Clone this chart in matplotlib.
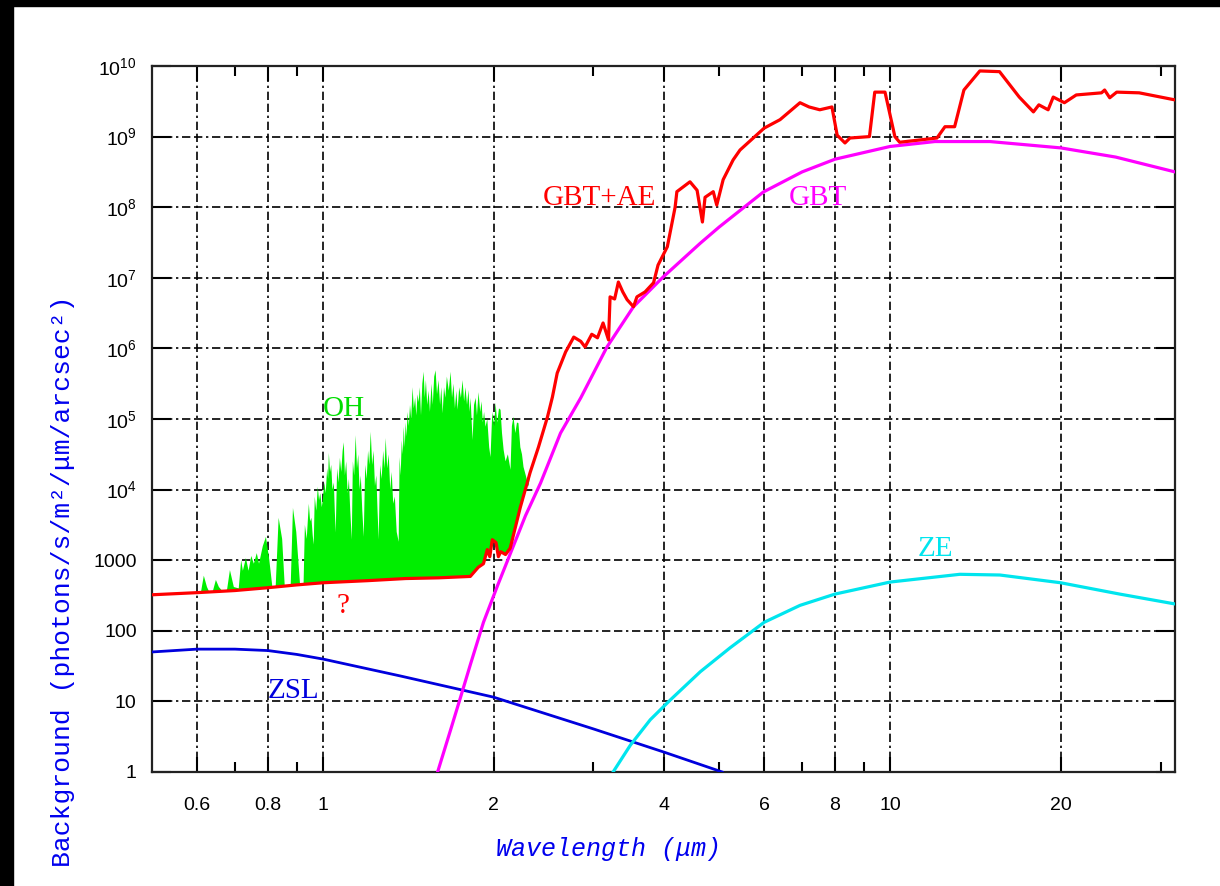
import numpy as np
import matplotlib
matplotlib.use("Agg")
import matplotlib.pyplot as plt
from matplotlib.patches import Rectangle
from matplotlib.ticker import FixedLocator, FixedFormatter, NullFormatter

plt.rcParams['font.family'] = 'Liberation Sans'
plt.rcParams['mathtext.fontset'] = 'custom'
plt.rcParams['mathtext.rm'] = 'Liberation Sans'
plt.rcParams['mathtext.default'] = 'regular'

# wavelengths in micron, backgrounds as log10(photons/s/m^2/um/arcsec^2)
zsl_wl = [0.5, 0.6, 0.7, 0.8, 0.9, 1.0, 1.37, 2.0, 3.0, 4.0, 5.06]
zsl_log = [1.70, 1.74, 1.74, 1.72, 1.665, 1.60, 1.36, 1.06, 0.61, 0.28, 0.0]

ze_wl = [3.25, 3.486, 3.779, 4.099, 4.63, 5.227, 6.0, 6.94, 8.0, 10.0, 13.28,
         15.62, 20.0, 25.4, 31.8]
ze_log = [0.0, 0.38, 0.74, 1.02, 1.42, 1.76, 2.12, 2.36, 2.52, 2.69, 2.80,
          2.79, 2.68, 2.52, 2.38]

gbt_wl = [1.594, 1.68, 1.75, 1.822, 1.92, 2.033, 2.143, 2.277, 2.42, 2.625,
          2.85, 3.17, 3.53, 3.98, 4.63, 5.0, 5.98, 7.0, 8.0, 10.0, 12.0, 15.0,
          20.0, 25.0, 31.8]
gbt_log = [0.0, 0.595, 1.062, 1.53, 2.12, 2.64, 3.10, 3.63, 4.09, 4.80,
           5.30, 6.02, 6.59, 7.01, 7.49, 7.72, 8.215, 8.50, 8.68, 8.86, 8.93, 8.93,
           8.84, 8.71, 8.50]

gbtae_wl = [0.5, 0.6, 0.7, 0.8, 0.9, 1.0, 1.2, 1.4, 1.6, 1.82, 1.88, 1.92,
            1.95, 1.97, 1.99, 2.02, 2.04, 2.06, 2.10, 2.14, 2.23, 2.32, 2.40,
            2.49, 2.54, 2.59, 2.68, 2.77, 2.85, 2.90, 2.98, 3.05, 3.12, 3.19,
            3.21, 3.27, 3.32, 3.38, 3.44, 3.53, 3.58, 3.70, 3.83, 3.90, 4.05,
            4.18, 4.21, 4.44, 4.57, 4.67, 4.72, 4.88, 4.95, 5.08, 5.29, 5.44,
            6.0, 6.4, 6.94, 7.2, 7.52, 7.9, 8.07, 8.33, 8.5, 9.2, 9.4, 9.8,
            10.2, 10.4, 12.1, 12.5, 13.0, 13.5, 14.4, 15.6, 16.9, 17.9, 18.3,
            19.0, 19.4, 20.3, 21.3, 23.6, 23.9, 24.4, 25.1, 27.5, 31.8]
gbtae_log = [2.51, 2.54, 2.57, 2.61, 2.65, 2.68, 2.71, 2.74, 2.75, 2.77, 2.90, 2.95,
             3.15, 3.05, 3.29, 3.25, 3.05, 3.12, 3.08, 3.17, 3.75, 4.24, 4.60,
             5.03, 5.31, 5.65, 5.95, 6.16, 6.10, 6.02, 6.20, 6.15, 6.36, 6.12,
             6.73, 6.70, 6.94, 6.80, 6.69, 6.59, 6.73, 6.80, 6.93, 7.18, 7.44,
             8.00, 8.22, 8.36, 8.24, 7.79, 8.14, 8.22, 8.03, 8.39, 8.67, 8.81,
             9.12, 9.24, 9.48, 9.42, 9.38, 9.42, 9.02, 8.91, 8.98, 9.00, 9.63, 9.63,
             9.00, 8.92, 8.98, 9.14, 9.14, 9.66, 9.93, 9.92, 9.56, 9.35, 9.45,
             9.38, 9.56, 9.48, 9.59, 9.62, 9.66, 9.55, 9.63, 9.62, 9.52]

# OH airglow envelope (top edge of the emission band forest)
oh_wl = [0.600, 0.610, 0.617, 0.625, 0.630, 0.640, 0.648, 0.656, 0.664, 0.678,
         0.686, 0.697, 0.711, 0.718, 0.723, 0.732, 0.740, 0.748, 0.756, 0.765,
         0.772, 0.784, 0.794, 0.805, 0.815, 0.826, 0.836, 0.848, 0.857, 0.868,
         0.878, 0.886, 0.898, 0.912, 0.925,
         0.930, 0.937, 0.945, 0.950, 0.955, 0.960, 0.964, 0.968, 0.974, 0.980,
         0.985, 0.990, 0.996, 1.000, 1.006, 1.012, 1.018, 1.022, 1.025, 1.030,
         1.035, 1.040, 1.046, 1.050, 1.054,
         1.060, 1.066, 1.072, 1.078, 1.084, 1.089, 1.094, 1.100, 1.106, 1.112,
         1.118, 1.125, 1.130, 1.136, 1.143, 1.149, 1.155, 1.161, 1.167, 1.174,
         1.181, 1.188, 1.195, 1.202, 1.208, 1.215, 1.222, 1.229, 1.236, 1.243,
         1.249, 1.255, 1.262, 1.270, 1.278, 1.285, 1.291, 1.299, 1.307, 1.315,
         1.323, 1.331, 1.340, 1.350, 1.361,
         1.366, 1.372, 1.378, 1.384, 1.389, 1.395, 1.400, 1.405, 1.411, 1.418,
         1.425, 1.432, 1.440, 1.447, 1.455, 1.462, 1.469, 1.476, 1.483, 1.490,
         1.498, 1.506, 1.513, 1.520, 1.528, 1.537, 1.545, 1.555, 1.563, 1.572,
         1.581, 1.590, 1.600, 1.610, 1.618, 1.627, 1.636, 1.645, 1.655, 1.668,
         1.680, 1.690, 1.700, 1.710, 1.720, 1.729, 1.740, 1.752, 1.764, 1.775,
         1.785, 1.796, 1.807, 1.815, 1.822, 1.837, 1.848, 1.860, 1.870, 1.882,
         1.895, 1.905, 1.915, 1.925, 1.936, 1.950, 1.965, 1.976, 1.990, 2.005,
         2.017, 2.030, 2.045, 2.058, 2.070, 2.084, 2.100, 2.120, 2.143, 2.155,
         2.169, 2.185, 2.200, 2.213, 2.230, 2.245, 2.259, 2.280, 2.306, 2.320]
oh_log = [2.54, 2.55, 2.78, 2.62, 2.56, 2.56, 2.72, 2.62, 2.57, 2.58,
          2.86, 2.62, 2.60, 3.00, 2.85, 3.03, 2.85, 3.06, 2.95, 3.10,
          2.95, 3.20, 3.33, 3.00, 2.62, 2.62, 3.60, 3.30, 2.63, 2.63,
          2.64, 3.74, 3.40, 2.65, 2.65,
          3.50, 3.30, 3.80, 3.55, 3.60, 3.35, 3.22, 3.90, 3.70, 4.04,
          3.85, 3.95, 3.75, 3.85, 4.10, 3.95, 4.30, 4.15, 4.52, 4.25,
          4.35, 4.00, 4.10, 3.70, 3.39,
          4.30, 4.10, 4.45, 4.25, 4.55, 4.67, 4.20, 4.40, 3.95, 4.15,
          3.70, 3.29, 4.40, 4.20, 4.77, 4.30, 4.50, 4.00, 4.20, 3.70,
          3.33, 4.35, 4.15, 4.55, 4.35, 4.82, 4.35, 4.55, 4.05, 4.20,
          3.70, 3.29, 4.35, 4.15, 4.55, 4.30, 4.73, 4.30, 4.50, 4.00,
          4.25, 3.80, 3.90, 3.40, 3.26,
          4.46, 4.20, 4.70, 4.50, 4.89, 4.60, 4.95, 4.75, 5.10, 4.90,
          5.20, 5.00, 5.45, 5.15, 5.30, 5.05, 5.35, 5.24, 5.45, 5.05,
          5.50, 5.67, 5.30, 5.55, 5.20, 5.40, 5.10, 5.50, 5.20, 5.60,
          5.69, 5.35, 5.55, 5.20, 5.45, 5.08, 5.45, 5.30, 5.60, 5.40,
          5.67, 5.30, 5.50, 5.15, 5.40, 5.13, 5.45, 5.30, 5.55, 5.25,
          5.45, 5.20, 5.41, 5.10, 5.30, 4.70, 5.20, 5.30, 5.05, 5.38,
          5.10, 5.25, 4.95, 5.10, 4.89, 5.00, 4.60, 4.46, 5.10, 4.90,
          5.23, 4.95, 5.15, 5.13, 4.80, 4.56, 4.40, 4.50, 4.28, 4.90,
          5.03, 4.80, 4.95, 4.94, 4.60, 4.50, 4.32, 4.20, 4.04, 4.24]

y_ticks = [1, 10, 100, 1000, 1e4, 1e5, 1e6, 1e7, 1e8, 1e9, 1e10]
y_labels = ['1', '10', '100', '1000', '$10^{4}$', '$10^{5}$', '$10^{6}$',
            '$10^{7}$', '$10^{8}$', '$10^{9}$', '$10^{10}$']
x_major = [0.6, 0.8, 1, 2, 4, 6, 8, 10, 20]
x_labels = ['0.6', '0.8', '1', '2', '4', '6', '8', '10', '20']
x_minor = [0.7, 0.9, 3, 5, 7, 9, 30]

fig = plt.figure(figsize=(12.2, 8.86), dpi=100)
ax = fig.add_axes([0.1246, 0.1287, 0.8385, 0.7968])
ax.set_xscale('log')
ax.set_yscale('log')
ax.set_xlim(0.5, 31.8)
ax.set_ylim(1, 1e10)

# OH forest: polygon closed along the GBT+AE continuum underneath it
gw = np.array(gbtae_wl)
gl = np.array(gbtae_log)
under = (gw >= 0.6) & (gw <= 2.32)
poly_x = np.concatenate([oh_wl, gw[under][::-1]])
poly_y = np.concatenate([10 ** np.array(oh_log), 10 ** gl[under][::-1]])
ax.fill(poly_x, poly_y, color='#00ee00', lw=0, zorder=2)

ax.plot(zsl_wl, 10 ** np.array(zsl_log), color='#0000dd', lw=2.0, zorder=3)
ax.plot(ze_wl, 10 ** np.array(ze_log), color='#00e5ee', lw=2.3, zorder=3)
ax.plot(gbt_wl, 10 ** np.array(gbt_log), color='#ff00ff', lw=2.3, zorder=3)
ax.plot(gbtae_wl, 10 ** gl, color='#ff0000', lw=2.3, zorder=4)

serif = 'Liberation Serif'
labels = [(1.089, 5.14, 'OH', '#00dd00'),
          (3.075, 8.13, 'GBT+AE', '#ff0000'),
          (7.47, 8.13, 'GBT', '#ff00ff'),
          (12.0, 3.16, 'ZE', '#00e5ee'),
          (0.889, 1.147, 'ZSL', '#0000dd'),
          (1.084, 2.35, '?', '#ff0000')]
for lx, ly, txt, col in labels:
    ax.text(lx, 10 ** ly, txt, color=col, fontsize=21, family=serif,
            ha='center', va='center', zorder=5)

ax.xaxis.set_major_locator(FixedLocator(x_major))
ax.xaxis.set_major_formatter(FixedFormatter(x_labels))
ax.xaxis.set_minor_locator(FixedLocator(x_minor))
ax.xaxis.set_minor_formatter(NullFormatter())
ax.yaxis.set_major_locator(FixedLocator(y_ticks))
ax.yaxis.set_major_formatter(FixedFormatter(y_labels))
ax.yaxis.set_minor_locator(FixedLocator([]))

ax.tick_params(axis='x', which='major', direction='in', length=11, width=1.5,
               top=True, labelsize=14, pad=18)
ax.tick_params(axis='x', which='minor', direction='in', length=7, width=1.5, top=True)
ax.tick_params(axis='y', which='major', direction='in', length=14, width=1.5,
               right=True, labelsize=14, pad=11)
for s in ax.spines.values():
    s.set_linewidth(1.6)
    s.set_color('#222222')

ax.grid(which='major', color='black', lw=1.2, linestyle=(0, (5, 2.2, 5, 2.2, 1.4, 2.2)))
ax.set_axisbelow(True)

ax.set_xlabel(r'Wavelength ($\mu$m)', color='#0000ee', fontsize=18,
              family='Liberation Mono', style='italic')
ax.set_ylabel('Background (photons/s/m²/μm/arcsec²)',
              color='#0000ee', fontsize=19, family='Liberation Mono')
ax.xaxis.set_label_coords(0.444, -0.089)
ax.yaxis.set_label_coords(-0.075, 0.27)

# black frame along the top and left edges
fig.add_artist(Rectangle((0, 1 - 6 / 886), 1, 6 / 886, transform=fig.transFigure,
                         color='black', zorder=10))
fig.add_artist(Rectangle((0, 0), 13 / 1220, 1, transform=fig.transFigure,
                         color='black', zorder=10))

fig.savefig('out.png', dpi=100)
